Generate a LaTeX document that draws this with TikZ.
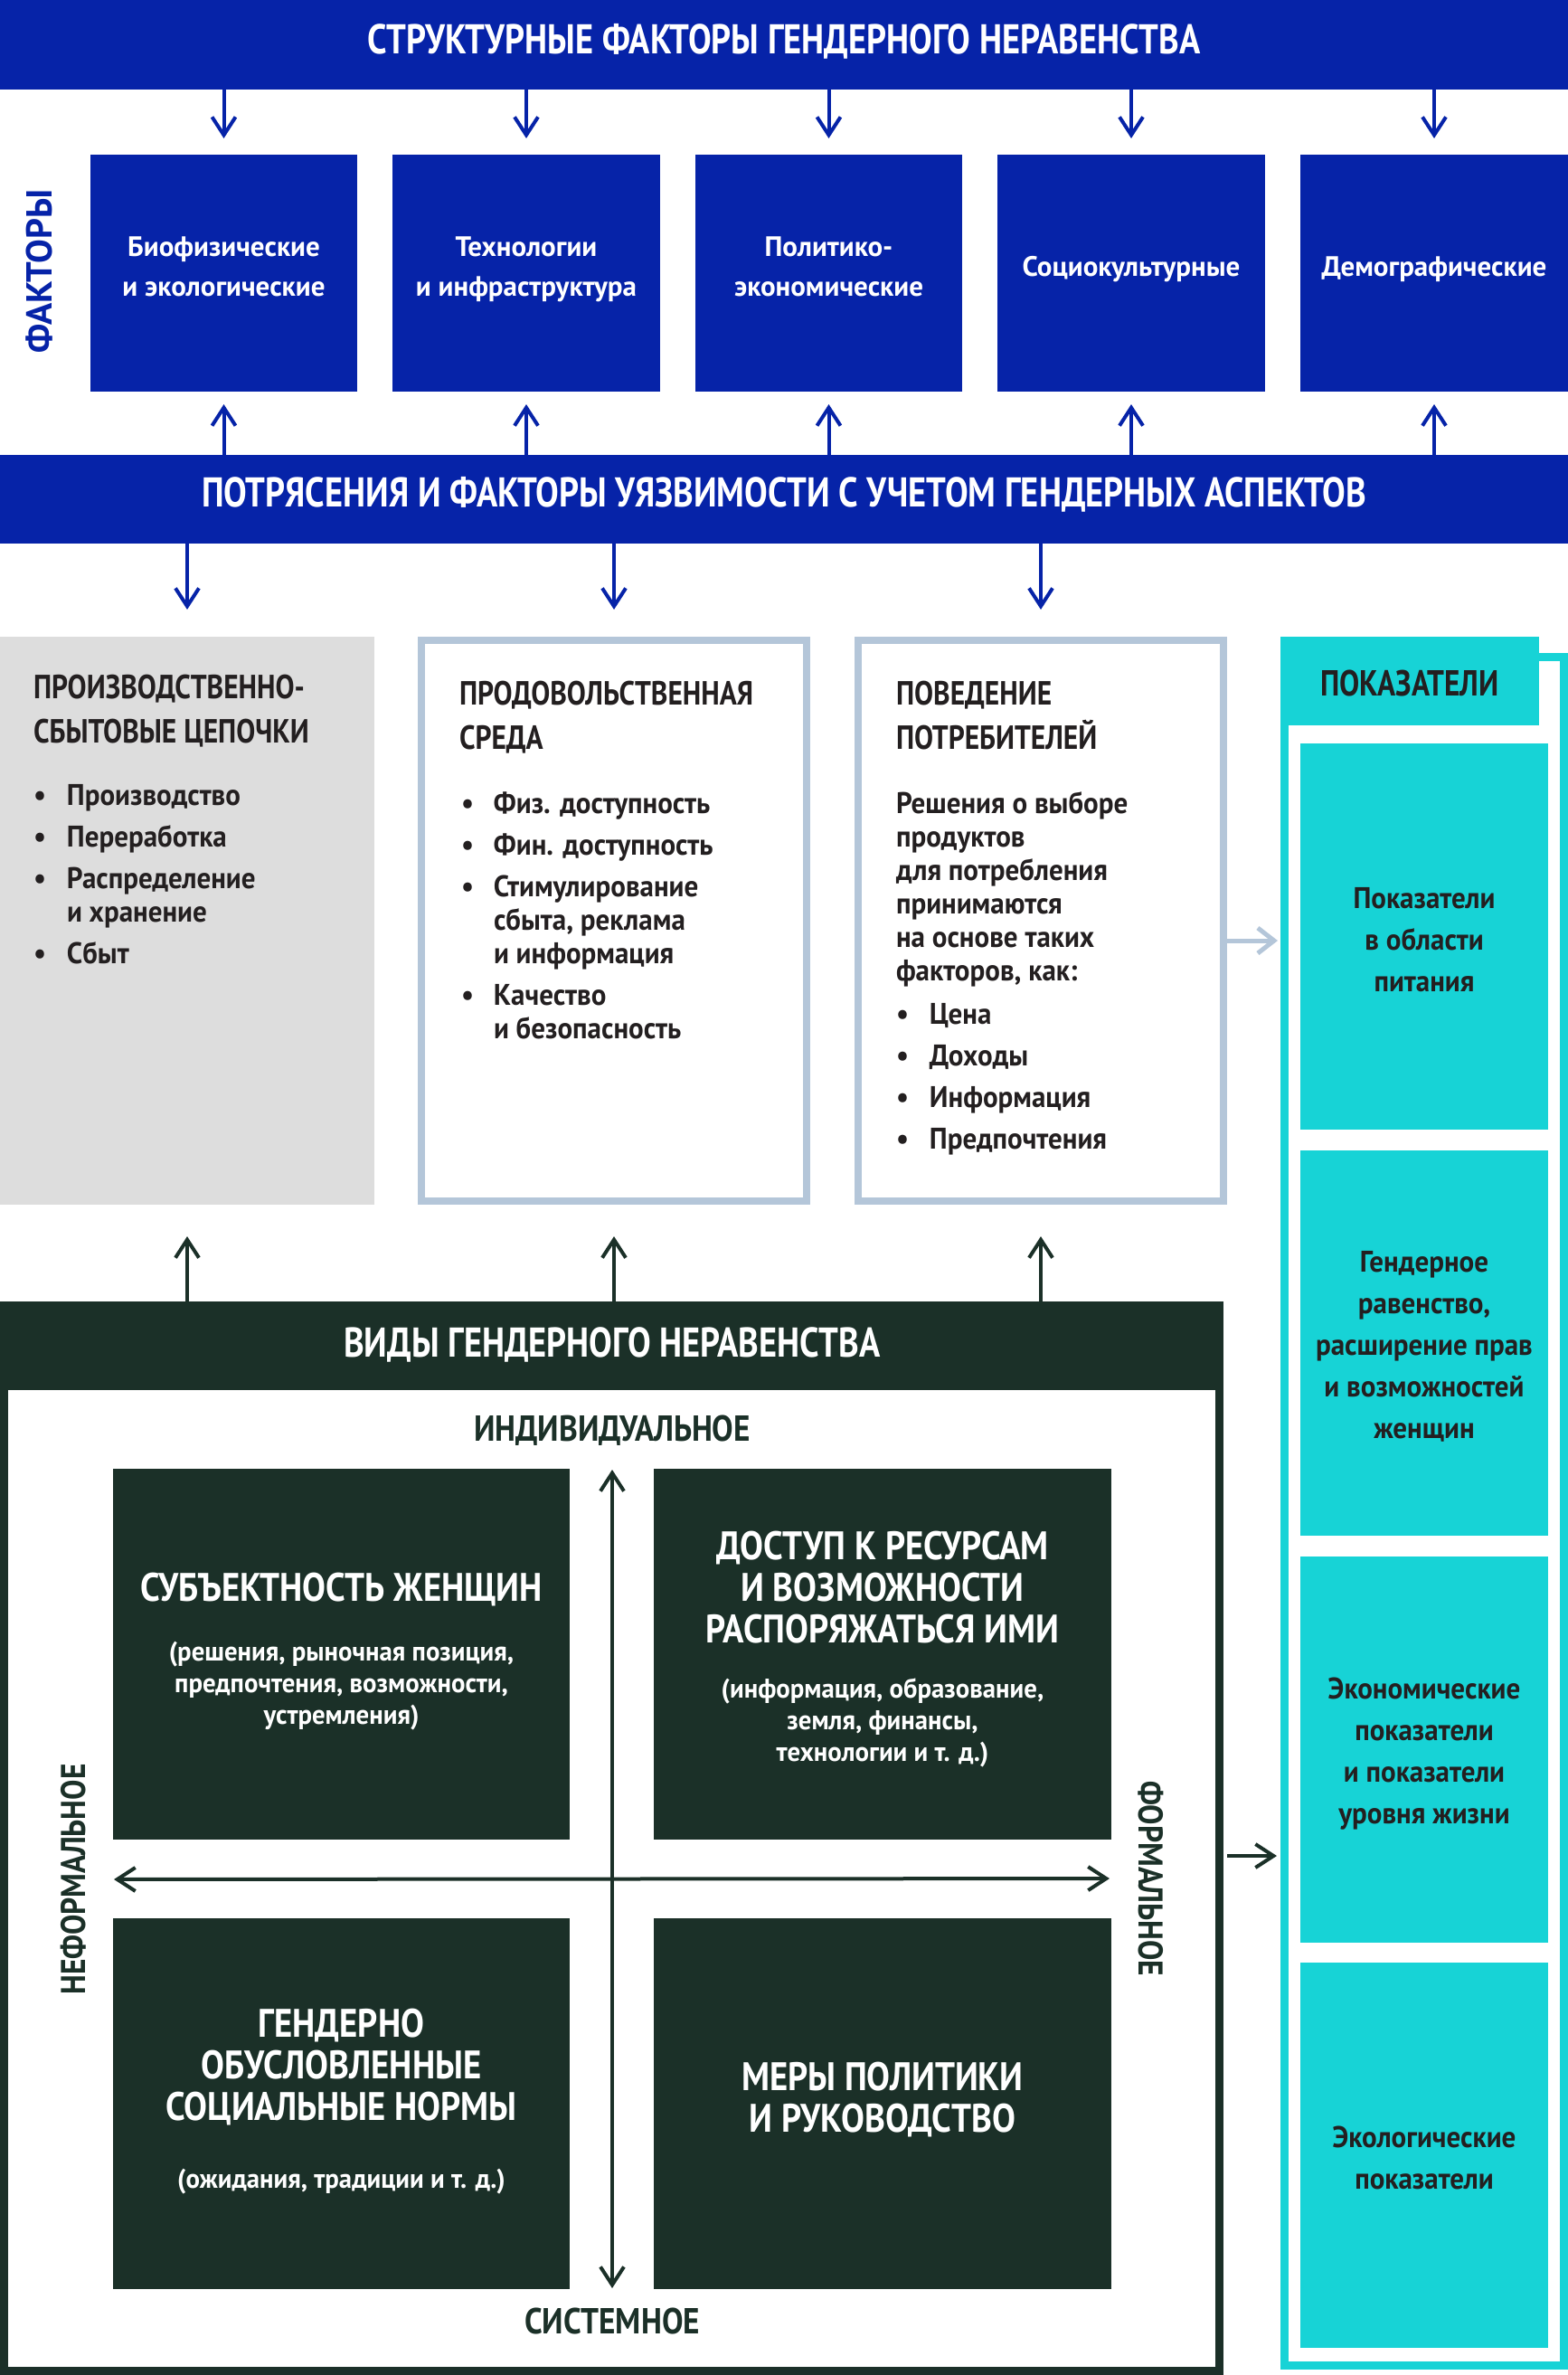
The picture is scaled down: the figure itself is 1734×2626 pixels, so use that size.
\documentclass[tikz,border=0pt]{standalone}
\usepackage{fontspec}
\setmainfont{PT Sans}
\newfontfamily\fban{PT Sans}[FakeStretch=0.835]
\newfontfamily\fmt{PT Sans}[FakeStretch=0.85]
\newfontfamily\fq{PT Sans}[FakeStretch=0.88]
\newfontfamily\fbody{PT Sans}[FakeStretch=0.94]
\newfontfamily\fsub{PT Sans}[FakeStretch=0.96]
\newfontfamily\fhd{PT Sans}[FakeStretch=0.83]
\newfontfamily\semi{PT Sans}[FakeStretch=0.88]
\usetikzlibrary{arrows.meta}
\definecolor{cblue}{HTML}{0623A8}
\definecolor{cteal}{HTML}{17D3D6}
\definecolor{cgrey}{HTML}{DDDDDD}
\definecolor{cline}{HTML}{B4C6D9}
\definecolor{cdark}{HTML}{1B3028}
\definecolor{ctext}{HTML}{231F20}
\newcommand\ctr[1]{\vtop{\halign{\hfil##\hfil\cr#1\crcr}}}
\newcommand\lft[1]{\vtop{\halign{##\hfil\cr#1\crcr}}}
\newcommand\blt[2]{\vtop{\halign{\hbox to #1{##\hfil}&##\hfil\cr#2\crcr}}}
\newcommand\gap{\noalign{\vskip9pt}}
\newcommand\fs[2]{\fontsize{#1}{#2}\selectfont}
\begin{document}
\begin{tikzpicture}[x=1pt,y=-1pt,
  every node/.style={inner sep=0pt,outer sep=0pt},
  rbox/.style={anchor=north west},
  barb/.style={-{Straight Barb[length=20pt,width=26pt,line width=4pt]},line width=4pt},
  bluehead/.style={barb,draw=cblue},
  darkhead/.style={barb,draw=cdark},
  dblhead/.style={{Straight Barb[length=20pt,width=26pt,line width=4pt]}-{Straight Barb[length=20pt,width=26pt,line width=4pt]},line width=4pt,draw=cdark},
  lighthead/.style={-{Straight Barb[length=18pt,width=28pt,line width=5pt]},line width=5pt,draw=cline},
  bantxt/.style={font=\fban\bfseries\fs{46}{54},text=white,anchor=base},
  ftxt/.style={font=\bfseries\fs{31}{44},text=white,anchor=base},
  mtitle/.style={font=\fmt\bfseries\fs{37}{49},text=ctext,anchor=base west},
  mbody/.style={font=\fbody\bfseries\fs{33}{37},text=ctext,anchor=base west},
  itxt/.style={font=\fbody\bfseries\fs{33}{46},text=ctext,anchor=base},
  qtitle/.style={font=\fq\bfseries\fs{44}{46},text=white,anchor=base},
  qsub/.style={font=\fsub\bfseries\fs{30}{35},text=white,anchor=base},
  axl/.style={font=\fq\bfseries\fs{40}{44},text=cdark,anchor=base},
  vlab/.style={font=\semi\bfseries\fs{38}{44},anchor=base}
]
\useasboundingbox (0,0) rectangle (1734,2626);
% ---- top banner and factors
\node[rbox,fill=cblue,minimum width=1734pt,minimum height=99pt] (top) at (0,0) {};
\node[bantxt] (toptxt) at (867,59) {СТРУКТУРНЫЕ ФАКТОРЫ ГЕНДЕРНОГО НЕРАВЕНСТВА};
\node[rbox,fill=cblue,minimum width=295pt,minimum height=262pt] (f1) at (100,171) {};
\node[rbox,fill=cblue,minimum width=296pt,minimum height=262pt] (f2) at (434,171) {};
\node[rbox,fill=cblue,minimum width=295pt,minimum height=262pt] (f3) at (769,171) {};
\node[rbox,fill=cblue,minimum width=296pt,minimum height=262pt] (f4) at (1103,171) {};
\node[rbox,fill=cblue,minimum width=296pt,minimum height=262pt] (f5) at (1438,171) {};
\node[ftxt] (f1t) at (f1 |- 0,283) {\ctr{Биофизические\cr и экологические}};
\node[ftxt] (f2t) at (f2 |- 0,283) {\ctr{Технологии\cr и инфраструктура}};
\node[ftxt] (f3t) at (f3 |- 0,283) {\ctr{Политико-\cr экономические}};
\node[ftxt] (f4t) at (f4 |- 0,305) {Социокультурные};
\node[ftxt] (f5t) at (f5 |- 0,305) {Демографические};
\node[font=\bfseries\fs{40}{44},anchor=base,text=cblue,rotate=90] (fakt) at (57,300) {ФАКТОРЫ};
% ---- vulnerability banner
\node[rbox,fill=cblue,minimum width=1734pt,minimum height=98pt] (vb) at (0,503) {};
\node[bantxt] (vbtxt) at (867,560) {ПОТРЯСЕНИЯ И ФАКТОРЫ УЯЗВИМОСТИ С УЧЕТОМ ГЕНДЕРНЫХ АСПЕКТОВ};
\foreach \i in {1,...,5}{
  \draw[bluehead,shorten >=18pt] (f\i |- top.south) -- (f\i.north);
  \draw[bluehead,shorten >=14pt] (f\i |- vb.north) -- (f\i.south);
}
% ---- middle boxes
\node[rbox,fill=cgrey,minimum width=414pt,minimum height=628pt] (A) at (0,704) {};
\node[rbox,draw=cline,line width=8pt,fill=white,minimum width=426pt,minimum height=620pt] (B) at (466,708) {};
\node[rbox,draw=cline,line width=8pt,fill=white,minimum width=404pt,minimum height=620pt] (C) at (949,708) {};
\draw[bluehead,shorten >=30pt] (A |- vb.south) -- (A.north);
\draw[bluehead,shorten >=34pt] (B |- vb.south) -- (B.north);
\draw[bluehead,shorten >=34pt] (C |- vb.south) -- (C.north);
\node[mtitle] (At) at (37,772) {\lft{ПРОИЗВОДСТВЕННО-\cr СБЫТОВЫЕ ЦЕПОЧКИ}};
\node[mbody] (Al) at (37,890) {\blt{37pt}{•&Производство\cr\gap •&Переработка\cr\gap •&Распределение\cr &и хранение\cr\gap •&Сбыт\cr}};
\node[mtitle] (Bt) at (508,779) {\lft{ПРОДОВОЛЬСТВЕННАЯ\cr СРЕДА}};
\node[mbody] (Bl) at (510,899) {\blt{36pt}{•&Физ. доступность\cr\gap •&Фин. доступность\cr\gap •&Стимулирование\cr &сбыта, реклама\cr &и информация\cr\gap •&Качество\cr &и безопасность\cr}};
\node[mtitle] (Ct) at (991,779) {\lft{ПОВЕДЕНИЕ\cr ПОТРЕБИТЕЛЕЙ}};
\node[mbody] (Cp) at (991,899) {\lft{Решения о выборе\cr продуктов\cr для потребления\cr принимаются\cr на основе таких\cr факторов, как:}};
\node[mbody] (Cl) at (991,1132) {\blt{37pt}{•&Цена\cr\gap •&Доходы\cr\gap •&Информация\cr\gap •&Предпочтения\cr}};
% ---- indicators
\node[rbox,draw=cteal,line width=9pt,minimum width=309pt,minimum height=1889pt] (ind) at (1420.5,726.5) {};
\node[rbox,fill=cteal,minimum width=286pt,minimum height=98pt] (indh) at (1416,704) {};
\node[font=\fhd\bfseries\fs{40}{46},text=ctext,anchor=base] (indht) at (1559,769) {ПОКАЗАТЕЛИ};
\node[rbox,fill=cteal,minimum width=274pt,minimum height=427pt] (i1) at (1438,822) {};
\node[rbox,fill=cteal,minimum width=274pt,minimum height=426pt] (i2) at (1438,1272) {};
\node[rbox,fill=cteal,minimum width=274pt,minimum height=427pt] (i3) at (1438,1721) {};
\node[rbox,fill=cteal,minimum width=274pt,minimum height=426pt] (i4) at (1438,2170) {};
\node[itxt] (i1t) at (i1 |- 0,1004) {\ctr{Показатели\cr в области\cr питания}};
\node[itxt] (i2t) at (i2 |- 0,1406) {\ctr{Гендерное\cr равенство,\cr расширение прав\cr и возможностей\cr женщин}};
\node[itxt] (i3t) at (i3 |- 0,1878) {\ctr{Экономические\cr показатели\cr и показатели\cr уровня жизни}};
\node[itxt] (i4t) at (i4 |- 0,2374) {\ctr{Экологические\cr показатели}};
\coordinate (la) at ([yshift=-22pt]C.east);
\draw[lighthead,shorten <=4pt,shorten >=7.5pt] (la) -- (la -| ind.west);
% ---- types of gender inequality
\node[rbox,draw=cdark,line width=9pt,minimum width=1344pt,minimum height=1178pt] (dkf) at (4.5,1443.5) {};
\node[rbox,fill=cdark,minimum width=1353pt,minimum height=98pt] (dk) at (0,1439) {};
\node[bantxt] (dktxt) at (677,1500) {ВИДЫ ГЕНДЕРНОГО НЕРАВЕНСТВА};
\draw[darkhead,shorten >=35pt] (A |- dk.north) -- (A.south);
\draw[darkhead,shorten >=39pt] (B |- dk.north) -- (B.south);
\draw[darkhead,shorten >=39pt] (C |- dk.north) -- (C.south);
\coordinate (da) at ([yshift=-19.5pt]dkf.east);
\draw[darkhead,shorten <=8.5pt,shorten >=8.5pt] (da) -- (da -| ind.west);
\node[rbox,fill=cdark,minimum width=505pt,minimum height=410pt] (q1) at (125,1624) {};
\node[rbox,fill=cdark,minimum width=506pt,minimum height=410pt] (q2) at (723,1624) {};
\node[rbox,fill=cdark,minimum width=505pt,minimum height=410pt] (q3) at (125,2121) {};
\node[rbox,fill=cdark,minimum width=506pt,minimum height=410pt] (q4) at (723,2121) {};
\node[qtitle] (q1t) at (q1 |- 0,1770) {СУБЪЕКТНОСТЬ ЖЕНЩИН};
\node[qsub] (q1s) at (q1 |- 0,1836) {\ctr{(решения, рыночная позиция,\cr предпочтения, возможности,\cr устремления)}};
\node[qtitle] (q2t) at (q2 |- 0,1724) {\ctr{ДОСТУП К РЕСУРСАМ\cr И ВОЗМОЖНОСТИ\cr РАСПОРЯЖАТЬСЯ ИМИ}};
\node[qsub] (q2s) at (q2 |- 0,1877) {\ctr{(информация, образование,\cr земля, финансы,\cr технологии и т. д.)}};
\node[qtitle] (q3t) at (q3 |- 0,2252) {\ctr{ГЕНДЕРНО\cr ОБУСЛОВЛЕННЫЕ\cr СОЦИАЛЬНЫЕ НОРМЫ}};
\node[qsub] (q3s) at (q3 |- 0,2419) {(ожидания, традиции и т. д.)};
\node[qtitle] (q4t) at (q4 |- 0,2311) {\ctr{МЕРЫ ПОЛИТИКИ\cr И РУКОВОДСТВО}};
\node[axl] (indl) at (677,1593) {ИНДИВИДУАЛЬНОЕ};
\node[axl] (sysl) at (677,2580) {СИСТЕМНОЕ};
\node[vlab,text=cdark,rotate=90] (nef) at (94,2078) {НЕФОРМАЛЬНОЕ};
\node[vlab,text=cdark,rotate=-90] (form) at (1259,2077) {ФОРМАЛЬНОЕ};
\draw[dblhead,shorten <=32pt,shorten >=50pt] (indl.base) -- (sysl.base);
\draw[dblhead,shorten <=32pt,shorten >=32pt] (nef.base) -- (form.base);
\end{tikzpicture}
\end{document}
